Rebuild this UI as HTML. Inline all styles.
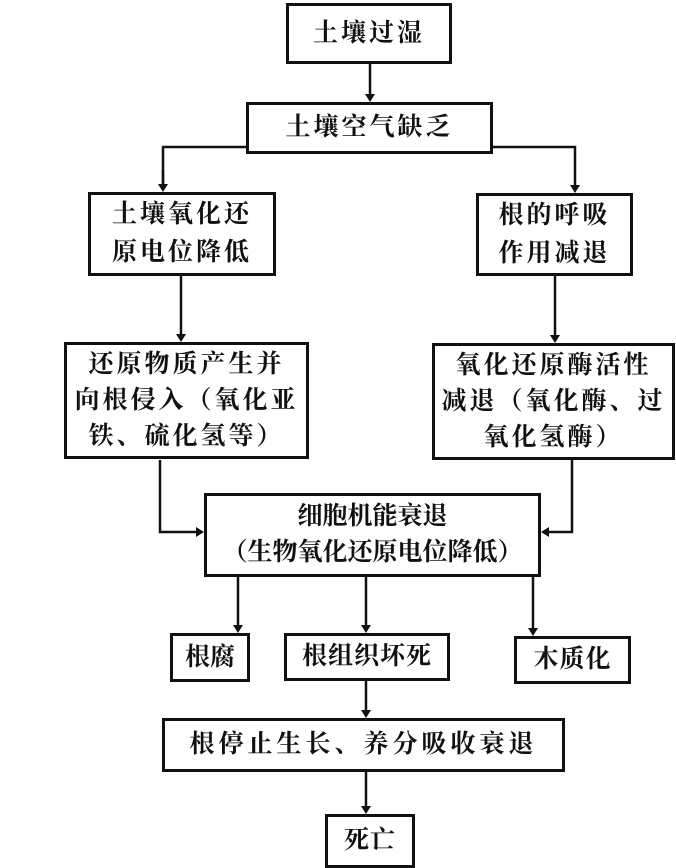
<!DOCTYPE html>
<html><head><meta charset="utf-8"><style>
body{margin:0;width:676px;height:868px;background:#fff;position:relative;overflow:hidden;font-family:"Liberation Serif","Noto Serif CJK SC",serif;font-weight:bold;}
.b{position:absolute;border:3px solid #111;box-sizing:border-box;display:flex;align-items:center;justify-content:center;text-align:center;font-size:25px;letter-spacing:3px;line-height:38px;color:#111;}
svg{position:absolute;left:0;top:0}
</style></head><body>
<svg width="676" height="868" stroke="#111" stroke-width="2.5" fill="none">
<defs><marker id="a" markerWidth="8" markerHeight="10" refX="4" refY="5" orient="auto-start-reverse" markerUnits="userSpaceOnUse"><path d="M0,0 L8,5 L0,10 Z" fill="#111" stroke="none"/></marker></defs>
<path d="M370 64 V98" marker-end="url(#a)"/>
<path d="M246 147 H163 V188"/><path d="M163 170 V188" marker-end="url(#a)"/>
<path d="M493 147 H575 V189" marker-end="url(#a)"/>
<path d="M181 276 V338" marker-end="url(#a)"/>
<path d="M555 276 V339" marker-end="url(#a)"/>
<path d="M160 460 V532 H200" marker-end="url(#a)"/>
<path d="M572 460 V532 H545" marker-end="url(#a)"/>
<path d="M238 577 V629" marker-end="url(#a)"/>
<path d="M366 577 V629" marker-end="url(#a)"/>
<path d="M533 577 V632" marker-end="url(#a)"/>
<path d="M366 681 V714" marker-end="url(#a)"/>
<path d="M366 772 V810" marker-end="url(#a)"/>
</svg>
<div class="b" style="left:286px;top:3px;width:166px;height:61px">土壤过湿</div>
<div class="b" style="left:246px;top:102px;width:247px;height:52px">土壤空气缺乏</div>
<div class="b" style="left:88px;top:192px;width:188px;height:84px">土壤氧化还<br>原电位降低</div>
<div class="b" style="left:476px;top:193px;width:157px;height:83px">根的呼吸<br>作用减退</div>
<div class="b" style="left:64px;top:342px;width:245px;height:117px;line-height:36px">还原物质产生并<br>向根侵入（氧化亚<br>铁、硫化氢等）</div>
<div class="b" style="left:432px;top:343px;width:243px;height:117px;line-height:36px">氧化还原酶活性<br>减退（氧化酶、过<br>氧化氢酶）</div>
<div class="b" style="left:204px;top:493px;width:337px;height:84px;line-height:36px;letter-spacing:0">细胞机能衰退<br>（生物氧化还原电位降低）</div>
<div class="b" style="left:170px;top:633px;width:80px;height:49px;letter-spacing:0">根腐</div>
<div class="b" style="left:284px;top:633px;width:166px;height:48px;letter-spacing:1px">根组织坏死</div>
<div class="b" style="left:514px;top:636px;width:117px;height:48px;letter-spacing:1px">木质化</div>
<div class="b" style="left:162px;top:718px;width:403px;height:54px;letter-spacing:4px">根停止生长、养分吸收衰退</div>
<div class="b" style="left:325px;top:814px;width:90px;height:54px;letter-spacing:1px">死亡</div>
</body></html>
